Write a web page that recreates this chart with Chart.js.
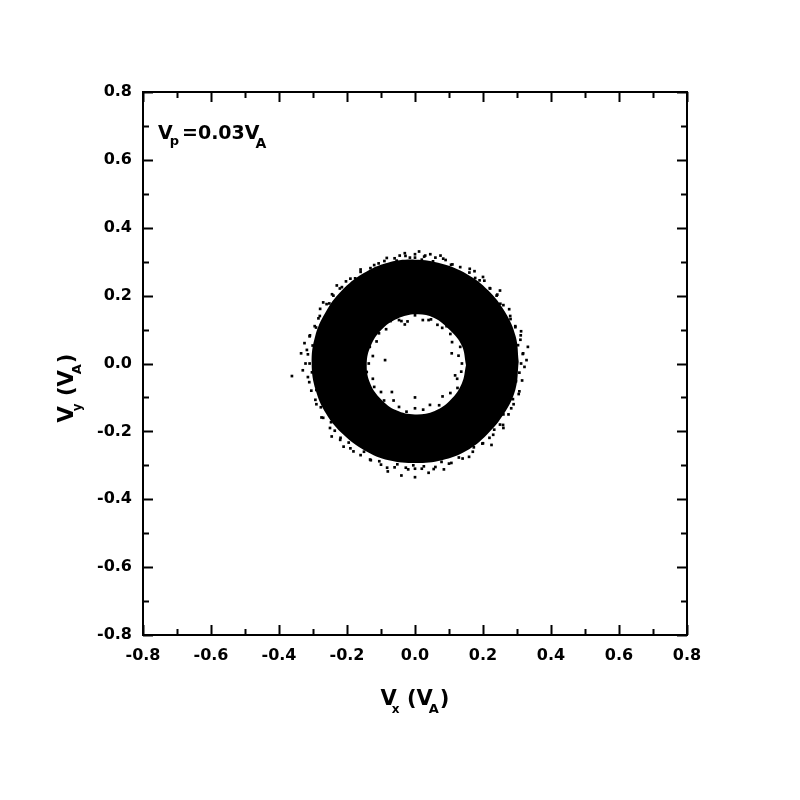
<!DOCTYPE html>
<html>
<head>
<meta charset="utf-8">
<title>vp = 0.03 vA velocity distribution</title>
<script src="https://cdn.jsdelivr.net/npm/chart.js@4"></script>
<style>
  body { margin: 0; background: #fff; }
  #wrap { width: 800px; height: 800px; }
</style>
</head>
<body>
<div id="wrap"><canvas id="ringChart" width="800" height="800"></canvas></div>
<script>
// axis ticks (vA units)
const tickValues = [-0.8, -0.6, -0.4, -0.2, 0.0, 0.2, 0.4, 0.6, 0.8];
const minorTickValues = [-0.7, -0.5, -0.3, -0.1, 0.1, 0.3, 0.5, 0.7];

// outer edge of the dense part of the ring
const outerEdge = [
    [0.305, 0.005], [0.296, 0.080], [0.264, 0.153], [0.215, 0.216], [0.152, 0.264],
    [0.079, 0.294], [0.000, 0.306], [-0.080, 0.297], [-0.153, 0.265], [-0.216, 0.214],
    [-0.263, 0.151], [-0.294, 0.079], [-0.304, 0.000], [-0.292, -0.079], [-0.260, -0.150],
    [-0.210, -0.210], [-0.148, -0.256], [-0.077, -0.285], [0.002, -0.293], [0.079, -0.285],
    [0.150, -0.258], [0.212, -0.209], [0.261, -0.149], [0.295, -0.078], [0.305, 0.005]
];

// edge of the empty hole in the middle
const innerEdge = [
    [0.150, -0.005], [0.138, 0.052], [0.103, 0.098], [0.055, 0.135], [0.003, 0.145],
    [-0.052, 0.132], [-0.098, 0.100], [-0.130, 0.052], [-0.142, -0.002], [-0.132, -0.058],
    [-0.100, -0.105], [-0.055, -0.138], [0.000, -0.150], [0.058, -0.140], [0.105, -0.107],
    [0.138, -0.058], [0.150, -0.005]
];

// particles on the fuzzy outer rim
const rimDots = [
    [0.312, 0.000], [0.317, 0.028], [0.303, 0.054], [0.311, 0.083], [0.295, 0.107],
    [0.281, 0.131], [0.277, 0.160], [0.251, 0.176], [0.242, 0.203], [0.221, 0.221],
    [0.204, 0.244], [0.177, 0.252], [0.161, 0.279], [0.133, 0.284], [0.106, 0.291],
    [0.083, 0.309], [0.053, 0.301], [0.027, 0.315], [0.000, 0.312], [-0.028, 0.317],
    [-0.054, 0.303], [-0.083, 0.311], [-0.107, 0.295], [-0.131, 0.281], [-0.160, 0.277],
    [-0.176, 0.251], [-0.203, 0.242], [-0.221, 0.221], [-0.244, 0.204], [-0.252, 0.177],
    [-0.279, 0.161], [-0.284, 0.133], [-0.291, 0.106], [-0.309, 0.083], [-0.301, 0.053],
    [-0.315, 0.027], [-0.310, 0.000], [-0.303, -0.026], [-0.311, -0.055], [-0.290, -0.078],
    [-0.293, -0.107], [-0.277, -0.129], [-0.275, -0.159], [-0.247, -0.173], [-0.236, -0.198],
    [-0.219, -0.219], [-0.195, -0.233], [-0.181, -0.259], [-0.150, -0.260], [-0.132, -0.283],
    [-0.105, -0.288], [-0.082, -0.307], [-0.052, -0.297], [-0.027, -0.307], [0.000, -0.310],
    [0.026, -0.303], [0.055, -0.311], [0.078, -0.290], [0.107, -0.293], [0.129, -0.277],
    [0.159, -0.275], [0.173, -0.247], [0.198, -0.236], [0.219, -0.219], [0.233, -0.195],
    [0.259, -0.181], [0.260, -0.150], [0.283, -0.132], [0.288, -0.105], [0.307, -0.082],
    [0.297, -0.052], [0.307, -0.027]
];

// loose particles farther out
const outerDots = [
    [0.000, 0.322], [0.030, 0.318], [-0.030, 0.325], [0.060, 0.312], [-0.060, 0.310],
    [0.090, 0.305], [-0.090, 0.302], [0.012, 0.330], [-0.045, 0.318], [0.045, 0.322],
    [0.110, 0.292], [-0.120, 0.290], [0.075, 0.318], [-0.015, 0.312], [0.020, 0.306],
    [0.160, 0.268], [0.190, 0.245], [0.220, 0.222], [0.240, 0.200], [0.260, 0.172],
    [0.280, 0.140], [0.295, 0.110], [0.200, 0.255], [0.250, 0.215], [0.175, 0.272],
    [0.310, 0.070], [0.318, 0.030], [0.322, -0.010], [0.315, -0.050], [0.332, 0.049],
    [0.328, 0.010], [0.305, -0.090], [0.312, 0.095],
    [0.290, -0.120], [0.275, -0.150], [0.250, -0.180], [0.230, -0.210], [0.200, -0.235],
    [0.170, -0.260], [0.140, -0.280], [0.260, -0.190], [0.225, -0.240],
    [0.100, -0.295], [0.060, -0.305], [0.020, -0.310], [-0.020, -0.312], [-0.060, -0.306],
    [-0.100, -0.298], [0.040, -0.322], [-0.040, -0.330], [0.000, -0.335], [-0.080, -0.318],
    [0.085, -0.312], [-0.005, -0.300],
    [-0.130, -0.285], [-0.160, -0.270], [-0.190, -0.250], [-0.220, -0.225], [-0.250, -0.190],
    [-0.270, -0.160], [-0.290, -0.120], [-0.210, -0.245], [-0.245, -0.215],
    [-0.305, -0.080], [-0.315, -0.040], [-0.322, 0.000], [-0.318, 0.040], [-0.310, 0.080],
    [-0.330, -0.020], [-0.335, 0.030], [-0.362, -0.037], [-0.325, 0.060],
    [-0.295, 0.110], [-0.280, 0.140], [-0.260, 0.175], [-0.240, 0.200], [-0.215, 0.225],
    [-0.190, 0.250], [-0.160, 0.270], [-0.230, 0.230], [-0.270, 0.180]
];

// stray particles on the rim of the hole
const innerDots = [
    [0.138, 0.000], [0.128, 0.023], [0.133, 0.049], [0.109, 0.063], [0.104, 0.087],
    [0.093, 0.110], [0.066, 0.114], [0.047, 0.130], [0.023, 0.128], [0.000, 0.142],
    [-0.022, 0.124], [-0.047, 0.128], [-0.072, 0.125], [-0.085, 0.101], [-0.106, 0.089],
    [-0.113, 0.065], [-0.133, 0.049], [-0.124, 0.022], [-0.136, 0.000], [-0.142, -0.025],
    [-0.124, -0.045], [-0.120, -0.069], [-0.100, -0.084], [-0.091, -0.109], [-0.063, -0.109],
    [-0.047, -0.128], [-0.025, -0.142], [0.000, -0.132], [0.024, -0.136], [0.044, -0.122],
    [0.071, -0.123], [0.081, -0.097], [0.104, -0.087], [0.125, -0.072], [0.124, -0.045],
    [0.136, -0.024],
    [-0.088, 0.010], [-0.068, -0.084], [0.000, -0.100], [0.108, 0.030], [-0.030, 0.115],
    [0.040, 0.128], [-0.040, 0.125], [0.080, 0.105], [0.118, -0.035]
];

const FONT = '"DejaVu Sans", "Liberation Sans", Arial, sans-serif';

function toPoints(list) {
    return list.map(p => ({ x: p[0], y: p[1] }));
}

function fmtTick(v) {
    if (Math.abs(v) < 1e-9) v = 0;
    return v.toFixed(1);
}

// text with subscripts, parts = [{t, size, dy, kern}]
function drawRich(ctx, parts, x, y, opts) {
    ctx.save();
    ctx.translate(x, y);
    if (opts.rotate) ctx.rotate(-Math.PI / 2);
    ctx.fillStyle = '#000';
    ctx.textBaseline = 'alphabetic';
    ctx.textAlign = 'left';
    let total = 0;
    parts.forEach(p => {
        ctx.font = 'bold ' + p.size + 'px ' + FONT;
        total += (p.kern || 0) + ctx.measureText(p.t).width;
    });
    let cx = opts.center ? -total / 2 : 0;
    parts.forEach(p => {
        ctx.font = 'bold ' + p.size + 'px ' + FONT;
        cx += (p.kern || 0);
        ctx.fillText(p.t, cx, p.dy || 0);
        cx += ctx.measureText(p.t).width;
    });
    ctx.restore();
}

const framePlugin = {
    id: 'frame',
    afterDraw(chart) {
        const ctx = chart.ctx;
        const area = chart.chartArea;
        const xs = chart.scales.x;
        const ys = chart.scales.y;

        ctx.save();
        ctx.strokeStyle = '#000';
        ctx.lineWidth = 2;
        ctx.strokeRect(area.left, area.top, area.right - area.left, area.bottom - area.top);

        // inward ticks on all four sides
        const drawTicks = (values, len) => {
            ctx.beginPath();
            values.forEach(v => {
                const px = Math.round(xs.getPixelForValue(v)) + 0.5;
                ctx.moveTo(px, area.bottom);
                ctx.lineTo(px, area.bottom - len);
                ctx.moveTo(px, area.top);
                ctx.lineTo(px, area.top + len);
                const py = Math.round(ys.getPixelForValue(v)) + 0.5;
                ctx.moveTo(area.left, py);
                ctx.lineTo(area.left + len, py);
                ctx.moveTo(area.right, py);
                ctx.lineTo(area.right - len, py);
            });
            ctx.stroke();
        };
        drawTicks(tickValues, 10);
        drawTicks(minorTickValues, 6);
        ctx.restore();

        drawRich(ctx, [
            { t: 'V', size: 21 },
            { t: 'x', size: 12, dy: 8, kern: -5 },
            { t: ' (', size: 21, kern: 0 },
            { t: 'V', size: 21 },
            { t: 'A', size: 13, dy: 8, kern: -4 },
            { t: ')', size: 21, kern: 1 }
        ], 415, 705, { center: true });

        drawRich(ctx, [
            { t: 'V', size: 21 },
            { t: 'y', size: 12, dy: 8, kern: -5 },
            { t: ' (', size: 21, kern: 0 },
            { t: 'V', size: 21 },
            { t: 'A', size: 13, dy: 8, kern: -4 },
            { t: ')', size: 21, kern: 1 }
        ], 73, 388, { center: true, rotate: true });

        drawRich(ctx, [
            { t: 'V', size: 19 },
            { t: 'p', size: 13, dy: 6, kern: -3 },
            { t: '=0.03V', size: 19, kern: 3 },
            { t: 'A', size: 14, dy: 9, kern: -4 }
        ], area.left + 15, 139, { center: false });
    }
};

function makeAxis(afterFit) {
    return {
        type: 'linear',
        min: -0.8,
        max: 0.8,
        afterBuildTicks: scale => {
            scale.ticks = tickValues.map(v => ({ value: v }));
        },
        ticks: {
            callback: v => fmtTick(v),
            color: '#000',
            font: { family: FONT, size: 16, weight: 'bold' },
            padding: 11,
            autoSkip: false,
            maxRotation: 0
        },
        grid: { display: false, drawTicks: false },
        border: { display: false },
        afterFit: afterFit
    };
}

const ctx = document.getElementById('ringChart').getContext('2d');
const chart = new Chart(ctx, {
    type: 'scatter',
    data: {
        datasets: [
            {
                label: 'stray particles',
                data: toPoints(rimDots.concat(outerDots, innerDots)),
                pointStyle: 'rect',
                pointRadius: 1.9,
                pointBorderWidth: 0,
                backgroundColor: '#000',
                borderColor: '#000',
                order: 0
            },
            {
                label: 'hole',
                type: 'line',
                data: toPoints(innerEdge),
                showLine: true,
                fill: 'shape',
                tension: 0.4,
                backgroundColor: '#fff',
                borderWidth: 0,
                pointRadius: 0,
                order: 1
            },
            {
                label: 'ring',
                type: 'line',
                data: toPoints(outerEdge),
                showLine: true,
                fill: 'shape',
                tension: 0.4,
                backgroundColor: '#000',
                borderWidth: 0,
                pointRadius: 0,
                order: 2
            }
        ]
    },
    options: {
        responsive: false,
        animation: false,
        devicePixelRatio: 1,
        layout: { padding: { left: 0, top: 92, right: 113, bottom: 0 } },
        plugins: {
            legend: { display: false },
            tooltip: { enabled: false }
        },
        scales: {
            x: makeAxis(scale => { scale.height = 165; }),
            y: makeAxis(scale => { scale.width = 143; })
        }
    },
    plugins: [framePlugin]
});
</script>
</body>
</html>
